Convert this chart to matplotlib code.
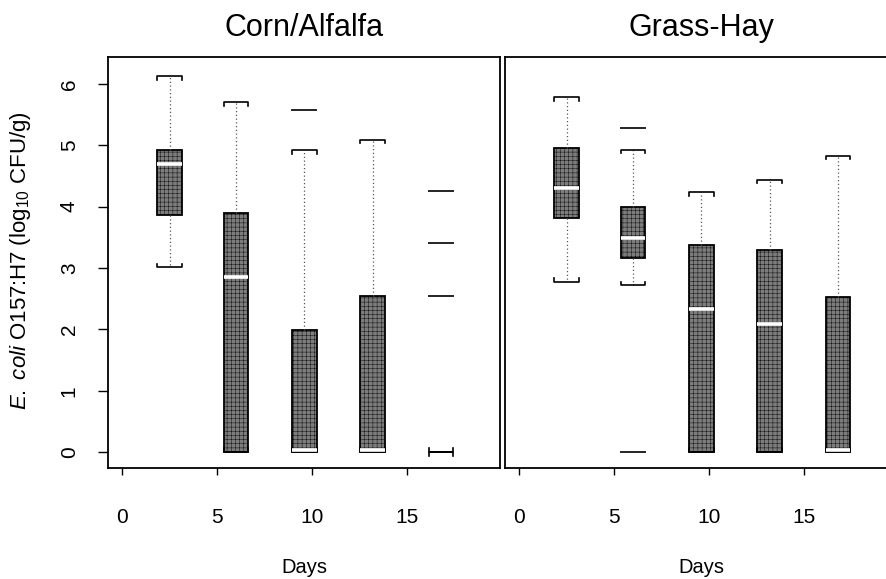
import matplotlib
matplotlib.use('Agg')
from matplotlib import pyplot as plt

plt.rcParams['font.family'] = ['Liberation Sans', 'DejaVu Sans']
plt.rcParams['mathtext.fontset'] = 'custom'
plt.rcParams['mathtext.rm'] = 'Liberation Sans'
plt.rcParams['mathtext.it'] = 'Liberation Sans:italic'
plt.rcParams['hatch.linewidth'] = 0.3

days = [2.5, 6, 9.6, 13.2, 16.8]
xticks = [0, 5, 10, 15]
yticks = [0, 1, 2, 3, 4, 5, 6]

# Corn/Alfalfa diet
corn_lo = [3.01, 0, 0, 0, 0]
corn_q1 = [3.87, 0, 0, 0, 0]
corn_med = [4.70, 2.85, 0.04, 0.04, 0]
corn_q3 = [4.92, 3.89, 1.99, 2.54, 0]
corn_hi = [6.13, 5.70, 4.92, 5.09, 0]
corn_out = [[], [], [5.58], [], [4.25, 3.40, 2.54]]

# Grass-Hay diet
hay_lo = [2.78, 2.72, 0, 0, 0]
hay_q1 = [3.81, 3.16, 0, 0, 0]
hay_med = [4.30, 3.49, 2.33, 2.09, 0.04]
hay_q3 = [4.96, 4.00, 3.38, 3.30, 2.53]
hay_hi = [5.79, 4.93, 4.24, 4.44, 4.83]
hay_out = [[], [5.29, 0], [], [], []]

panels = [('Corn/Alfalfa', corn_lo, corn_q1, corn_med, corn_q3, corn_hi, corn_out),
          ('Grass-Hay', hay_lo, hay_q1, hay_med, hay_q3, hay_hi, hay_out)]

fig = plt.figure(figsize=(8.87, 5.79), dpi=100)
ax1 = fig.add_axes([108 / 887, 1 - 468 / 579, 392 / 887, 411 / 579])
ax2 = fig.add_axes([505 / 887, 1 - 468 / 579, 392 / 887, 411 / 579])

for ax, (title, lo, q1, med, q3, hi, out) in zip([ax1, ax2], panels):
    stats = []
    for i in range(len(days)):
        stats.append({'whislo': lo[i], 'q1': q1[i], 'med': med[i],
                      'q3': q3[i], 'whishi': hi[i], 'fliers': out[i]})
    parts = ax.bxp(stats, positions=days, widths=1.3, patch_artist=True,
                   capwidths=1.3, manage_ticks=False,
                   boxprops=dict(facecolor='#7c7c7c', edgecolor='black',
                                 linewidth=1.3, hatch='++++'),
                   medianprops=dict(color='white', linewidth=2.6),
                   whiskerprops=dict(color='#555555', linewidth=0.9,
                                     linestyle=(0, (1, 2))),
                   capprops=dict(color='black', linewidth=1.2),
                   flierprops=dict(marker='_', markersize=19,
                                   markeredgecolor='black', markeredgewidth=1.2))
    # bracket shaped caps
    d = 0.06
    for j, cap in enumerate(parts['caps']):
        xs = cap.get_xdata()
        y = cap.get_ydata()[0]
        dy = d if j % 2 == 0 else -d
        cap.set_data([xs[0], xs[0], xs[1], xs[1]], [y + dy, y, y, y + dy])
    for j, m in enumerate(parts['medians']):
        if q1[j] == q3[j]:
            m.set_visible(False)

    ax.set_xlim(-0.74, 19.9)
    ax.set_ylim(-0.26, 6.44)
    ax.set_xticks(xticks)
    ax.set_title(title, fontsize=22, pad=15)
    ax.set_xlabel('Days', fontsize=14.5, labelpad=22)
    ax.tick_params(axis='x', labelsize=15, length=5, width=1, pad=24)
    for s in ax.spines.values():
        s.set_linewidth(1.3)

ax1.set_yticks(yticks)
ax1.tick_params(axis='y', labelsize=15, length=7, width=1, pad=14)
for lab in ax1.get_yticklabels():
    lab.set_rotation(90)
    lab.set_va('center')
ax2.set_yticks([])

fig.text(21 / 887, 1 - 261 / 579, r'$\it{E.\ coli}$ O157:H7 (log$_{10}$ CFU/g)',
         rotation=90, ha='center', va='center', fontsize=16)

plt.savefig('out.png', dpi=100)
